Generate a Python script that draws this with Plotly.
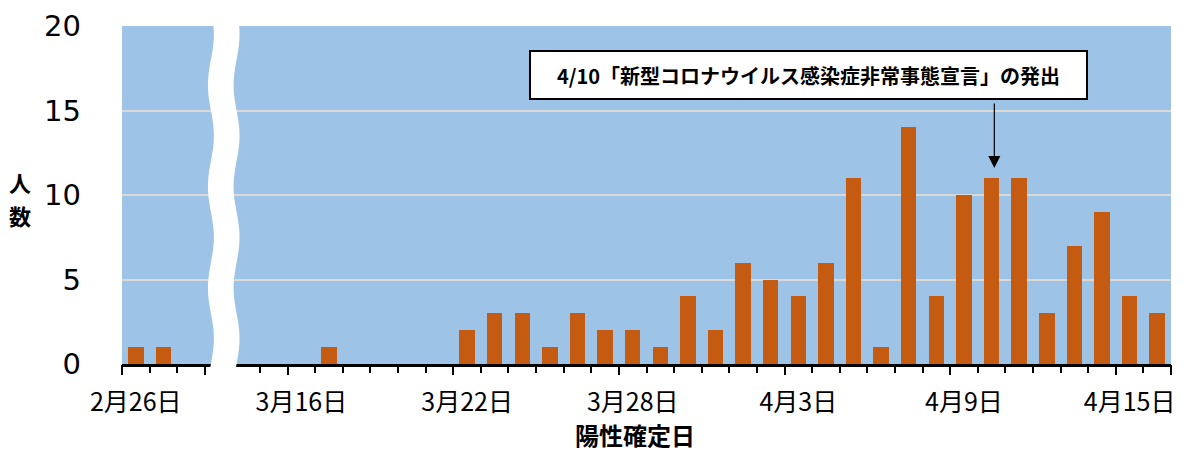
import numpy as np
import plotly.graph_objects as go

# ---- data ----
left_dates = ["2月26日", "2月27日", "2月28日"]
left_counts = [1, 1, 0]

right_dates = (
    [f"3月{d}日" for d in range(14, 32)] + [f"4月{d}日" for d in range(1, 17)]
)
right_counts = [0, 0, 0, 1, 0, 0, 0, 0, 2, 3, 3, 1, 3, 2, 2, 1, 4, 2,
                6, 5, 4, 6, 11, 1, 14, 4, 10, 11, 11, 3, 7, 9, 4, 3]

tick_labels = ["2月26日", "3月16日", "3月22日", "3月28日", "4月3日", "4月9日", "4月15日"]
y_ticks = [0, 5, 10, 15, 20]
y_title_chars = ["人", "数"]

note_text = "<b>4/10「新型コロナウイルス感染症非常事態宣言」の発出</b>"
note_date = "4月10日"

# ---- positions on a broken axis (one empty slot for the break) ----
pos = {}
for i, d in enumerate(left_dates):
    pos[d] = i
gap = 1
for i, d in enumerate(right_dates):
    pos[d] = len(left_dates) + gap + i
all_dates = left_dates + right_dates
all_counts = left_counts + right_counts
xs = [pos[d] for d in all_dates]
n_slots = len(left_dates) + gap + len(right_dates)

# page body has an 8px default margin -> offset the figure accordingly
OFF = 8
W, H = 1192 - OFF, 455 - OFF
ML, MR, MT, MB = 122 - OFF, 21, 26 - OFF, 91
PW, PH = W - ML - MR, H - MT - MB


def px_x(p):
    return (p - OFF - ML) / PW


def px_y(p):
    return (H - MB - (p - OFF)) / PH


FONT = "Noto Sans CJK JP"
fig = go.Figure()
fig.add_trace(go.Bar(
    x=xs, y=all_counts, width=0.56,
    marker=dict(color="#C55A11", line=dict(width=0)),
    customdata=all_dates,
    hovertemplate="%{customdata}: %{y}人<extra></extra>",
))

tickvals = [pos[t] for t in tick_labels]
long_ticks = [v - 0.5 for v in tickvals] + [len(left_dates) - 0.5, n_slots - 0.5]

fig.update_layout(
    width=W, height=H,
    margin=dict(l=ML, r=MR, t=MT, b=MB, autoexpand=False),
    paper_bgcolor="white", plot_bgcolor="#9DC3E6",
    showlegend=False, bargap=0,
    font=dict(family=FONT, color="black"),
    xaxis=dict(
        automargin=False,
        range=[-0.5, n_slots - 0.5],
        tickmode="array", tickvals=tickvals, ticktext=tick_labels,
        ticks="", ticklen=0, showgrid=False, zeroline=False,
        showline=True, linecolor="black", linewidth=3,
        tickfont=dict(size=25, family=FONT),
        ticklabelstandoff=14,
        minor=dict(tick0=-0.5, dtick=1, ticks="outside", ticklen=6,
                   tickwidth=2, tickcolor="black", showgrid=False),
    ),
    xaxis2=dict(
        automargin=False,
        overlaying="x", matches="x", side="bottom",
        tickmode="array", tickvals=long_ticks, showticklabels=False,
        ticks="outside", ticklen=10, tickwidth=2, tickcolor="black",
        showgrid=False, zeroline=False, showline=False,
    ),
    yaxis=dict(
        automargin=False,
        range=[0, 20], tickmode="array", tickvals=y_ticks,
        showgrid=True, gridcolor="#D9D9D9", gridwidth=2,
        zeroline=False, showline=False, ticks="",
        tickfont=dict(size=29, family="DejaVu Sans"),
        ticklabelstandoff=40,
    ),
)
# invisible trace to activate xaxis2
fig.add_trace(go.Scatter(x=[xs[0]], y=[0], xaxis="x2", mode="markers",
                         marker=dict(opacity=0), hoverinfo="skip"))

# ---- wavy break band ----
x_left = (len(left_dates) - 0.5 + 0.22 + 0.5) / n_slots
x_right = (len(left_dates) - 0.5 + 1.15 + 0.5) / n_slots
amp = 3 / PW
ys = np.linspace(-0.06, 1.02, 60)
wave = np.sin(ys * 2 * np.pi / 0.3)
left_pts = [(x_left + amp * w, y) for w, y in zip(wave, ys)]
right_pts = [(x_right + amp * w, y) for w, y in zip(wave[::-1], ys[::-1])]
pts = left_pts + right_pts
path = "M " + " L ".join(f"{a:.5f},{b:.5f}" for a, b in pts) + " Z"
fig.add_shape(type="path", path=path, xref="x domain", yref="y domain",
              fillcolor="white", line=dict(width=0), layer="above")

# ---- annotations ----
fig.add_annotation(
    x=px_x(808), y=px_y(75), xref="paper", yref="paper", text=note_text,
    showarrow=False,
    font=dict(size=20, family=FONT, color="black"),
    bgcolor="white", bordercolor="black", borderwidth=2, borderpad=5,
    width=545, height=36, xanchor="center", yanchor="middle",
)
fig.add_annotation(
    x=pos[note_date] + 0.1, y=11.6, xref="x", yref="y", text="",
    showarrow=True, ax=0, ay=-66, arrowhead=2, arrowsize=2,
    arrowwidth=1.2, arrowcolor="black",
)
for k, ch in enumerate(y_title_chars):
    fig.add_annotation(
        x=px_x(20), y=px_y(182 + 33 * k), xref="paper", yref="paper",
        text=f"<b>{ch}</b>", showarrow=False, borderpad=0,
        font=dict(size=22, family=FONT), xanchor="center", yanchor="middle",
    )
fig.add_annotation(
    x=px_x(635), y=px_y(434), xref="paper", yref="paper",
    text="<b>陽性確定日</b>", showarrow=False, borderpad=0,
    font=dict(size=24, family=FONT), xanchor="center", yanchor="middle",
)

fig.write_html("out.html")
